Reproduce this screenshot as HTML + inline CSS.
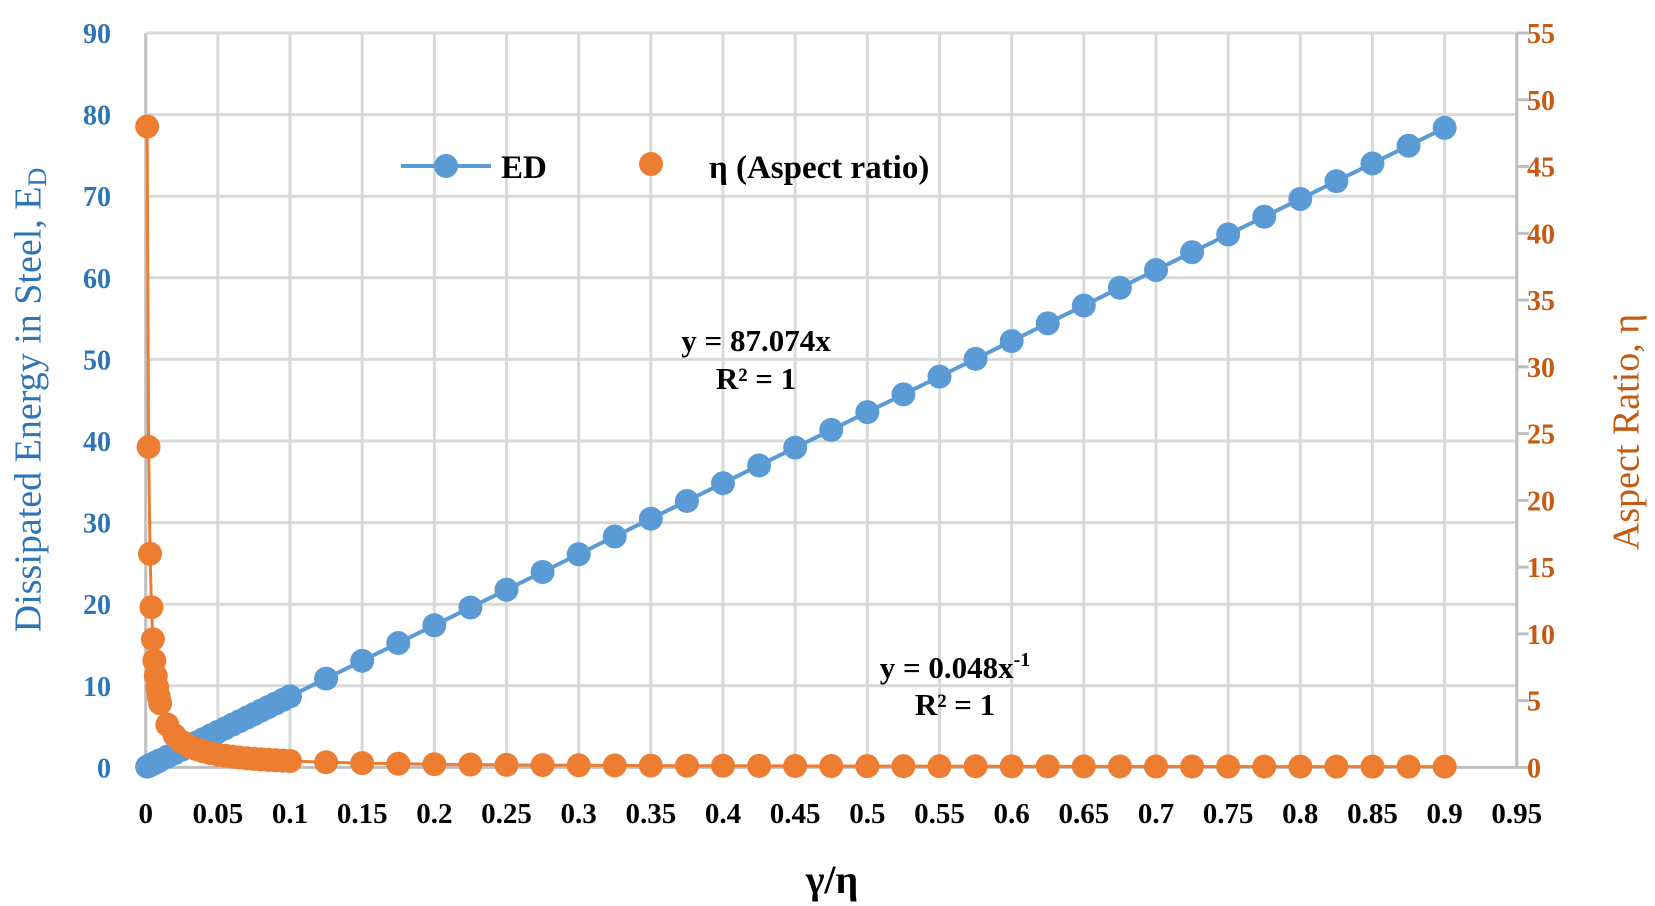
<!DOCTYPE html>
<html><head><meta charset="utf-8"><style>
html,body{margin:0;padding:0;background:#fff;}
svg{display:block;}
text{font-family:"Liberation Serif","DejaVu Serif",serif;}
</style></head><body>
<svg id="s" width="1655" height="906" viewBox="0 0 1655 906" xmlns="http://www.w3.org/2000/svg">
<g id="grid"></g>
<g id="series"></g>
<g id="labels"></g>
<text x="32" y="400" transform="rotate(-90 32 400)" text-anchor="middle" dominant-baseline="middle" font-size="38" fill="#2e75b6">Dissipated Energy in Steel, E<tspan font-size="26" dy="8">D</tspan></text>
<text x="1630" y="432" transform="rotate(-90 1630 432)" text-anchor="middle" dominant-baseline="middle" font-size="38" fill="#c55a11">Aspect Ratio, η</text>
<text x="832" y="893" text-anchor="middle" font-size="40" font-weight="bold" fill="#000">γ/η</text>
<line x1="401" y1="166" x2="491" y2="166" stroke="#5b9bd5" stroke-width="4"/>
<circle cx="446" cy="166" r="12" fill="#5b9bd5"/>
<text x="501" y="178" font-size="33" font-weight="bold" fill="#000">ED</text>
<circle cx="651" cy="164" r="12" fill="#ed7d31"/>
<text x="709" y="178" font-size="33" font-weight="bold" fill="#000">η (Aspect ratio)</text>
<text x="756" y="351" text-anchor="middle" font-size="31" font-weight="bold" fill="#000">y = 87.074x</text>
<text x="756" y="389" text-anchor="middle" font-size="31" font-weight="bold" fill="#000">R² = 1</text>
<text x="955" y="678" text-anchor="middle" font-size="31" font-weight="bold" fill="#000">y = 0.048x<tspan font-size="20" dy="-12">-1</tspan></text>
<text x="955" y="715" text-anchor="middle" font-size="31" font-weight="bold" fill="#000">R² = 1</text>
</svg>
<script>
var NS="http://www.w3.org/2000/svg";
function el(p,t,a,txt){var e=document.createElementNS(NS,t);for(var k in a)e.setAttribute(k,a[k]);if(txt!==undefined)e.textContent=txt;document.getElementById(p).appendChild(e);return e;}
var L=145.7,R=1516.8,T=33,B=767.4;
function X(v){return L+v*(R-L)/0.95;}
function YL(v){return B-v*(B-T)/90;}
function YR(v){return B-v*(B-T)/55;}
for(var i=0;i<=19;i++){var x=X(i*0.05);
 el("grid","line",{x1:x,y1:T,x2:x,y2:B,stroke:i==0?"#bfbfbf":"#d9d9d9","stroke-width":3});
 var lab=(i*0.05).toFixed(2).replace(/0+$/,'').replace(/\.$/,'');
 el("labels","text",{x:x,y:823,"text-anchor":"middle","font-size":29,"font-weight":"bold",fill:"#000"},lab);}
for(var j=0;j<=9;j++){var y=YL(j*10);
 el("grid","line",{x1:L,y1:y,x2:R,y2:y,stroke:j==0?"#bfbfbf":"#d9d9d9","stroke-width":3});
 el("labels","text",{x:111,y:y+10,"text-anchor":"end","font-size":28,"font-weight":"bold",fill:"#2e75b6"},j*10);}
el("grid","line",{x1:R,y1:T,x2:R,y2:B,stroke:"#bfbfbf","stroke-width":3});
for(var k=0;k<=11;k++){var y=YR(k*5);
 el("grid","line",{x1:R,y1:y,x2:R+12,y2:y,stroke:"#bfbfbf","stroke-width":3});
 el("labels","text",{x:1527,y:y+10,"font-size":28,"font-weight":"bold",fill:"#c55a11"},k*5);}
var xs=[];
for(var a=1;a<=10;a++)xs.push(a*0.001);
for(var a=3;a<=20;a++)xs.push(a*0.005);
for(var a=5;a<=36;a++)xs.push(a*0.025);
var pb="",po="";
xs.forEach(function(v,i){pb+=(i?"L":"M")+X(v)+","+YL(87.074*v);po+=(i?"L":"M")+X(v)+","+YR(0.048/v);});
el("series","path",{d:po,fill:"none",stroke:"#ed7d31","stroke-width":3});
el("series","path",{d:pb,fill:"none",stroke:"#5b9bd5","stroke-width":4});
xs.forEach(function(v){el("series","circle",{cx:X(v),cy:YL(87.074*v),r:12,fill:"#5b9bd5"});});
xs.forEach(function(v){el("series","circle",{cx:X(v),cy:YR(0.048/v),r:12,fill:"#ed7d31"});});
</script>
</body></html>
